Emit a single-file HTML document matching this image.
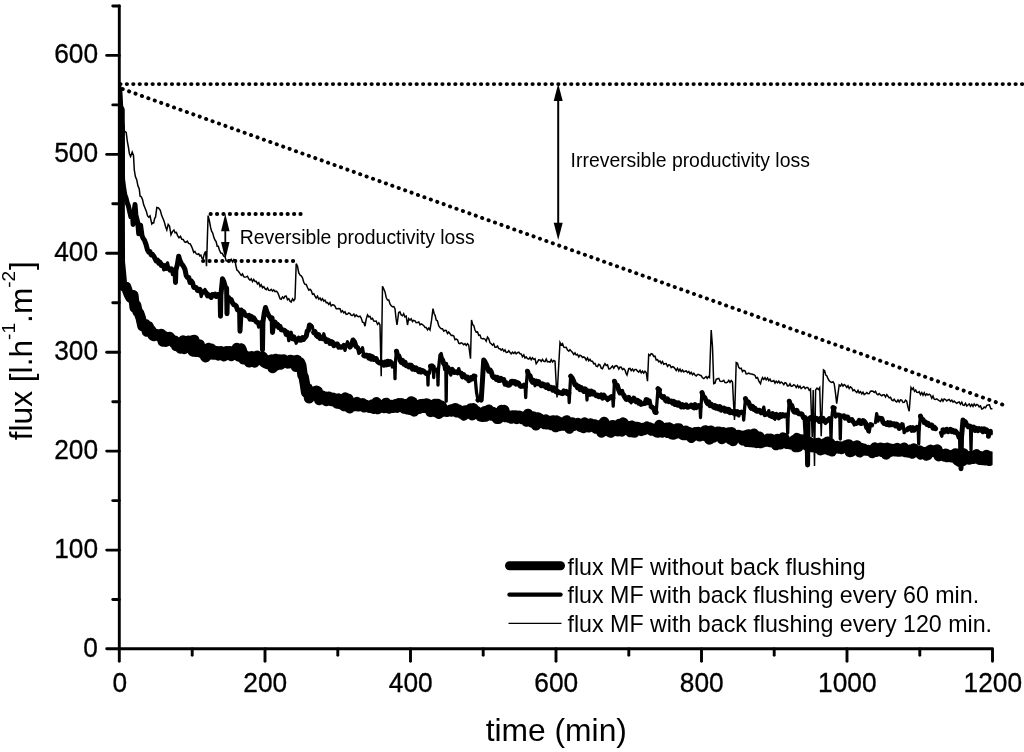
<!DOCTYPE html>
<html lang="en">
<head>
<meta charset="utf-8">
<title>Flux versus time for microfiltration with and without back flushing</title>
<style>
html,body{margin:0;padding:0;background:#fff;}
body{width:1024px;height:752px;overflow:hidden;font-family:"Liberation Sans",Arial,Helvetica,sans-serif;}
svg{display:block;}
</style>
</head>
<body>
<svg width="1024" height="752" viewBox="0 0 1024 752" font-family="'Liberation Sans', Arial, Helvetica, sans-serif" fill="#000">
<rect width="1024" height="752" fill="#fff"/>
<defs><clipPath id="plot"><rect x="118" y="0" width="874.6" height="650"/></clipPath></defs>
<g clip-path="url(#plot)" fill="none" stroke="#000" stroke-linejoin="round" stroke-linecap="round">
<path d="M119.5 110.0L119.6 200.0L119.8 262.0L120.6 270.0L122.0 285.0L123.4 285.5L124.8 286.8L126.1 286.9L127.5 291.0L129.0 294.7L130.5 297.7L132.0 297.0L133.3 295.2L134.7 307.7L136.0 305.0L137.5 311.6L139.0 313.0L140.8 318.3L142.5 326.0L144.0 324.9L145.5 324.2L147.0 331.6L148.5 326.3L150.0 330.0L151.2 330.3L152.5 335.3L153.7 336.0L155.0 335.2L156.2 334.2L157.5 335.4L158.7 334.7L160.0 337.0L161.4 334.0L162.8 341.4L164.2 336.1L165.6 341.7L166.9 337.4L168.3 337.5L169.7 337.0L171.1 339.4L172.5 340.5L173.8 342.9L175.0 340.8L176.2 346.0L177.5 345.0L178.9 343.5L180.3 348.4L181.7 346.3L183.1 340.6L184.4 348.9L185.8 342.4L187.2 342.7L188.6 340.7L190.0 343.7L191.4 340.8L192.8 351.4L194.2 339.9L195.6 351.8L196.9 345.6L198.3 351.5L199.7 344.7L201.1 352.8L202.5 350.0L204.0 354.6L205.5 357.2L207.0 355.7L208.5 348.0L210.0 352.5L211.4 348.7L212.8 354.6L214.2 354.6L215.6 350.9L216.9 351.3L218.3 355.4L219.7 351.4L221.1 351.3L222.5 353.7L223.9 356.2L225.4 354.6L226.8 351.2L228.2 354.4L229.6 351.2L231.1 355.9L232.5 351.2L233.9 353.4L235.4 353.8L236.8 348.1L238.2 356.1L239.6 356.7L241.1 348.4L242.5 352.5L243.7 359.3L245.0 359.2L246.2 358.7L247.6 356.5L249.0 362.3L250.3 360.7L251.7 356.2L253.1 360.1L254.5 362.4L255.9 359.6L257.2 355.8L258.6 359.9L260.0 357.5L261.4 360.4L262.9 356.9L264.3 362.4L265.7 363.2L267.1 363.9L268.6 360.4L270.0 362.5L271.4 359.6L272.7 368.1L274.1 366.3L275.5 359.0L276.8 365.4L278.2 359.9L279.5 359.5L280.9 364.5L282.3 362.6L283.6 359.4L285.0 361.2L286.4 362.1L287.7 363.4L289.1 363.2L290.5 359.9L291.8 363.1L293.2 362.9L294.5 360.5L295.9 366.7L297.3 360.1L298.6 364.7L300.0 362.5L301.2 365.3L302.5 375.0L303.7 377.3L305.0 384.6L306.2 392.5L307.7 388.2L309.1 398.3L310.6 396.6L312.1 391.5L313.5 392.6L315.0 395.0L316.4 390.8L317.8 391.5L319.2 400.0L320.6 396.1L321.9 395.7L323.3 398.4L324.7 396.5L326.1 400.9L327.5 398.7L328.9 396.8L330.2 400.6L331.6 401.0L333.0 397.8L334.3 399.1L335.7 402.1L337.0 403.5L338.4 398.6L339.8 403.9L341.1 399.8L342.5 402.5L344.0 406.1L345.4 397.6L346.9 406.5L348.3 399.0L349.8 408.3L351.2 405.8L352.7 402.7L354.2 405.7L355.6 406.0L357.1 402.1L358.5 406.3L360.0 405.0L361.4 403.8L362.7 403.3L364.1 407.2L365.5 404.8L366.8 406.6L368.2 406.8L369.5 407.8L370.9 407.1L372.3 404.5L373.6 408.7L375.0 406.2L376.4 402.3L377.8 409.0L379.2 404.5L380.6 407.2L381.9 405.2L383.3 407.9L384.7 407.9L386.1 402.9L387.5 404.8L388.9 408.5L390.3 407.9L391.7 405.1L393.1 407.7L394.4 407.4L395.8 404.2L397.2 407.7L398.6 403.3L400.0 406.2L401.4 403.3L402.8 404.1L404.2 408.6L405.6 404.2L406.9 409.3L408.3 408.7L409.7 409.8L411.1 401.4L412.5 401.9L413.9 411.4L415.3 404.3L416.7 408.6L418.1 408.8L419.4 408.7L420.8 404.3L422.2 404.1L423.6 407.8L425.0 406.2L426.4 403.5L427.8 404.0L429.2 408.5L430.6 411.9L431.9 411.0L433.3 411.0L434.7 404.0L436.1 412.1L437.5 403.9L438.9 413.7L440.3 410.4L441.7 405.7L443.1 411.6L444.4 410.5L445.8 411.5L447.2 411.7L448.6 410.8L450.0 410.0L451.4 411.6L452.8 409.2L454.2 408.7L455.6 408.2L456.9 412.3L458.3 409.4L459.7 412.2L461.1 413.5L462.5 412.7L463.9 415.4L465.3 410.4L466.7 413.4L468.1 411.2L469.4 413.0L470.8 408.5L472.2 415.2L473.6 408.3L475.0 412.5L476.4 411.0L477.8 412.2L479.2 413.9L480.6 416.4L481.9 416.7L483.3 416.7L484.7 411.2L486.1 416.5L487.5 410.8L488.9 409.8L490.3 412.4L491.7 415.5L493.1 412.0L494.4 415.8L495.8 417.1L497.2 418.8L498.6 418.8L500.0 415.0L501.4 410.1L502.8 410.9L504.2 410.1L505.6 417.0L506.9 415.0L508.3 417.4L509.7 415.8L511.1 418.5L512.5 415.4L513.9 416.0L515.3 415.4L516.7 418.9L518.1 416.2L519.4 415.8L520.8 416.6L522.2 419.1L523.6 417.7L525.0 418.7L526.4 421.5L527.8 414.0L529.2 421.0L530.6 417.4L531.9 422.5L533.3 416.5L534.7 423.4L536.1 425.3L537.5 417.5L538.9 418.0L540.3 422.6L541.7 422.9L543.1 419.9L544.4 424.0L545.8 419.6L547.2 424.3L548.6 421.3L550.0 422.5L551.4 425.1L552.8 420.4L554.2 424.7L555.6 427.1L556.9 420.6L558.3 425.3L559.7 425.9L561.1 422.5L562.5 425.5L563.9 425.3L565.3 421.4L566.7 420.5L568.1 426.2L569.4 428.6L570.8 426.0L572.2 422.4L573.6 425.8L575.0 425.0L576.4 423.6L577.8 423.0L579.2 424.0L580.6 426.9L581.9 423.7L583.3 427.9L584.7 422.5L586.1 424.9L587.5 427.0L588.9 427.2L590.3 423.5L591.7 425.0L593.1 425.2L594.4 424.4L595.8 428.4L597.2 425.3L598.6 428.8L600.0 427.0L601.4 432.5L602.7 423.9L604.1 422.0L605.5 425.4L606.8 430.6L608.2 431.2L609.5 429.7L610.9 432.6L612.3 425.3L613.6 425.5L615.0 427.5L616.4 430.9L617.8 431.2L619.2 424.0L620.6 430.1L621.9 431.4L623.3 422.6L624.7 424.5L626.1 426.6L627.5 426.5L628.9 429.7L630.3 432.1L631.7 425.7L633.1 431.2L634.4 432.5L635.8 427.2L637.2 426.9L638.6 427.4L640.0 428.7L641.4 430.9L642.8 427.9L644.2 430.0L645.6 427.7L646.9 426.8L648.3 428.2L649.7 427.7L651.1 430.4L652.5 428.6L653.9 430.6L655.3 431.1L656.7 432.3L658.1 432.5L659.4 425.1L660.8 427.7L662.2 432.4L663.6 428.2L665.0 430.0L666.4 427.8L667.8 432.8L669.2 427.5L670.6 432.6L671.9 434.3L673.3 434.4L674.7 429.3L676.1 433.6L677.5 428.6L678.9 428.5L680.3 433.3L681.7 434.0L683.1 435.0L684.4 434.9L685.8 430.7L687.2 435.1L688.6 432.0L690.0 433.7L691.4 437.7L692.8 435.6L694.2 435.6L695.6 432.4L696.9 432.8L698.3 432.0L699.7 436.3L701.1 435.6L702.5 432.4L703.9 431.4L705.3 430.5L706.7 436.8L708.1 432.6L709.4 439.4L710.8 430.7L712.2 436.5L713.6 437.6L715.0 435.0L716.4 433.0L717.8 431.7L719.2 431.7L720.6 433.6L721.9 438.9L723.3 432.3L724.7 433.6L726.1 434.7L727.5 433.5L728.9 432.4L730.3 439.3L731.7 432.3L733.1 440.9L734.4 434.7L735.8 435.8L737.2 436.2L738.6 434.9L740.0 437.5L741.4 435.7L742.8 440.3L744.2 435.8L745.6 435.5L746.9 441.8L748.3 434.4L749.7 441.9L751.1 436.7L752.5 442.2L753.9 433.7L755.3 435.7L756.7 442.9L758.1 442.7L759.4 436.7L760.8 443.1L762.2 441.2L763.6 442.1L765.0 440.0L766.4 441.4L767.8 438.8L769.2 441.9L770.6 438.7L771.9 442.1L773.3 441.8L774.7 439.8L776.1 445.1L777.5 439.0L778.9 444.1L780.3 444.2L781.7 439.6L783.1 437.7L784.4 438.2L785.8 443.2L787.2 443.8L788.6 443.5L790.0 442.5L791.4 444.6L792.8 444.7L794.2 440.1L795.6 447.0L796.9 438.1L798.3 446.9L799.7 441.0L801.1 439.7L802.5 440.7L803.9 439.8L805.3 441.5L806.7 445.6L808.1 443.0L809.4 441.9L810.8 443.6L812.2 447.2L813.6 443.9L815.0 445.0L816.4 447.9L817.8 442.9L819.2 443.9L820.6 450.2L822.0 447.6L823.4 449.2L824.8 443.3L826.2 448.4L827.6 441.7L829.0 450.2L830.4 443.4L831.8 451.3L833.2 448.2L834.6 448.5L836.0 446.2L837.4 446.1L838.8 448.5L840.2 446.4L841.6 448.9L843.0 447.5L844.4 447.1L845.8 445.5L847.2 445.0L848.6 444.4L849.9 451.9L851.3 451.8L852.7 446.4L854.1 450.0L855.5 447.3L856.9 445.5L858.3 446.9L859.7 452.3L861.1 447.9L862.4 450.0L863.8 448.8L865.2 450.5L866.6 450.6L868.0 450.0L869.4 451.0L870.8 451.1L872.2 452.8L873.6 452.2L874.9 447.5L876.3 451.7L877.7 449.5L879.1 448.8L880.5 447.8L881.9 451.7L883.3 448.2L884.7 451.1L886.1 454.5L887.4 447.8L888.8 452.2L890.2 448.7L891.6 451.4L893.0 450.0L894.4 448.9L895.8 451.3L897.2 448.0L898.6 451.6L899.9 451.6L901.3 449.3L902.7 448.7L904.1 447.7L905.5 452.1L906.9 450.4L908.3 452.5L909.7 452.3L911.1 449.4L912.4 453.5L913.8 448.6L915.2 450.6L916.6 451.2L918.0 452.5L919.4 450.6L920.8 454.4L922.2 451.8L923.6 452.2L924.9 452.4L926.3 455.4L927.7 455.0L929.1 450.6L930.5 449.9L931.9 451.4L933.3 451.9L934.7 451.0L936.1 450.0L937.4 449.6L938.8 456.2L940.2 453.8L941.6 454.2L943.0 455.0L944.4 456.5L945.8 453.7L947.2 457.1L948.6 454.9L949.9 456.5L951.3 457.1L952.7 455.0L954.1 457.0L955.5 453.4L956.9 460.0L958.3 460.7L959.7 461.8L961.1 452.9L962.4 461.1L963.8 453.5L965.2 456.1L966.6 459.2L968.0 457.5L969.4 459.5L970.8 456.1L972.3 456.6L973.7 458.8L975.1 455.1L976.5 454.4L978.0 456.1L979.4 459.7L980.8 456.3L982.2 460.0L983.7 456.5L985.1 460.3L986.5 455.0L987.9 456.6L989.4 460.8L990.8 456.6L992.2 458.7" stroke-width="10.5"/>
<path d="M119.6 90.0L119.8 105.0L121.2 118.0L122.2 130.0L122.4 155.0L122.4 170.0L122.6 179.4L123.8 188.7L124.9 195.1L126.0 198.0L127.2 202.8L128.5 206.2L129.8 212.2L130.9 216.9L132.7 217.4L133.1 224.4L133.5 216.9L135.0 204.5L135.9 215.0L137.8 222.5L138.7 233.7L139.1 225.8L140.6 225.3L142.0 235.6L143.2 238.5L144.3 239.8L145.9 244.0L147.5 250.0L148.8 252.2L150.0 251.7L151.2 255.0L152.5 254.4L153.8 256.2L155.0 258.7L156.2 261.0L157.5 260.1L158.8 263.2L160.0 262.1L161.2 265.5L162.5 265.0L163.8 269.9L165.0 265.6L166.2 268.5L167.5 262.9L168.8 268.3L170.0 270.0L171.3 268.8L172.5 274.7L173.8 271.8L175.1 270.5L175.5 282.5L175.9 270.0L177.3 264.8L178.7 256.2L180.0 260.6L181.2 263.1L182.5 265.0L183.8 266.9L185.0 269.5L186.2 275.6L187.5 277.5L188.8 277.6L190.0 282.5L191.2 280.8L192.5 282.7L193.8 287.4L195.0 287.5L196.2 287.4L197.5 290.4L198.8 290.8L200.0 289.5L201.2 296.5L202.5 292.5L203.8 291.8L205.0 289.4L206.2 292.7L207.5 295.8L208.8 294.9L210.0 296.2L211.2 297.4L212.5 294.6L213.8 294.9L215.0 294.2L216.2 296.5L217.5 295.0L218.8 294.2L220.1 295.5L220.5 316.2L220.9 295.0L222.5 278.7L224.0 282.1L225.5 287.5L226.6 288.0L227.0 313.7L227.4 298.0L228.7 297.5L230.0 300.6L231.2 299.6L232.5 302.9L233.7 304.7L235.0 305.0L236.2 305.9L237.5 310.0L238.7 310.0L239.6 310.5L240.0 331.2L241.2 310.0L242.5 312.2L243.7 311.8L245.0 314.8L246.2 315.7L247.5 316.2L248.8 315.4L250.0 319.2L251.2 316.3L252.5 319.4L253.8 317.9L255.0 320.0L256.2 321.8L257.5 322.3L258.7 327.1L260.0 323.0L261.2 322.5L262.1 323.0L262.5 350.0L262.9 322.5L264.2 313.4L265.5 307.5L267.0 312.2L268.5 315.2L270.0 317.5L271.0 319.5L272.1 318.0L272.5 332.5L273.7 322.5L275.0 322.0L276.2 325.7L277.5 324.5L278.7 327.5L280.0 326.3L281.2 329.8L282.5 330.0L283.8 329.9L285.0 330.8L286.2 334.5L287.5 332.4L288.8 340.7L290.0 336.2L291.2 332.3L292.5 338.6L293.8 336.8L295.0 339.4L296.2 343.2L297.5 340.0L298.8 338.2L300.0 340.0L301.2 340.3L302.5 337.5L303.7 339.3L305.0 337.6L306.2 336.2L307.3 330.8L308.4 330.5L309.5 325.0L310.9 325.8L312.3 326.5L313.7 332.5L315.0 331.6L316.2 335.2L317.5 336.5L318.7 334.6L320.0 338.5L321.2 337.1L322.5 338.7L323.8 333.8L325.0 338.7L326.2 341.4L327.5 339.9L328.8 340.7L330.0 343.5L331.2 341.5L332.5 342.2L333.8 345.7L335.0 345.0L336.2 344.0L337.5 344.1L338.8 347.2L340.0 346.6L341.2 347.3L342.5 346.8L343.8 345.3L345.0 350.3L346.2 345.3L347.5 341.8L348.8 345.3L350.0 347.0L351.5 344.9L353.0 340.0L354.5 341.8L356.0 346.5L357.5 347.5L358.8 353.4L360.0 351.5L361.2 350.4L362.5 347.7L363.8 355.5L365.0 356.2L366.2 355.1L367.5 355.5L368.8 358.1L370.0 355.7L371.2 359.1L372.5 356.6L373.8 359.4L375.0 358.7L376.2 358.5L377.5 361.6L378.8 362.7L380.0 363.0L381.2 362.0L382.5 363.7L383.7 365.2L385.0 362.0L386.2 364.9L387.5 361.2L388.7 364.3L390.0 361.6L391.2 362.5L392.3 367.0L393.4 366.4L394.6 363.0L395.0 378.7L395.4 362.5L396.5 351.2L397.7 355.8L398.8 355.7L400.0 360.0L401.2 362.3L402.5 360.3L403.8 364.2L405.0 362.1L406.2 365.7L407.5 365.0L408.8 366.9L410.0 365.1L411.2 365.3L412.5 369.2L413.8 367.5L415.0 369.5L416.2 367.9L417.5 370.0L418.8 371.7L420.0 369.7L421.2 372.1L422.5 370.6L423.8 371.2L425.0 372.5L426.3 373.7L427.6 373.0L428.0 385.0L428.4 372.5L429.5 373.1L430.5 366.2L431.9 365.8L433.2 366.7L433.7 377.5L434.1 370.5L436.0 370.0L437.6 370.5L438.0 385.0L438.4 370.0L440.0 355.0L441.2 353.6L442.5 359.7L443.7 363.7L444.7 369.6L445.8 364.2L446.2 401.2L446.6 368.0L448.0 367.5L449.4 372.3L450.8 375.1L452.2 369.3L453.6 372.2L455.0 372.5L456.2 371.7L457.5 372.8L458.8 368.6L460.0 372.9L461.2 373.2L462.5 376.8L463.8 374.7L465.0 376.2L466.2 378.1L467.5 377.2L468.8 380.7L470.0 380.0L471.2 377.6L472.5 378.8L473.8 376.0L475.0 376.2L476.5 392.1L478.0 400.0L479.6 398.4L481.2 400.0L482.4 381.6L483.7 360.0L485.0 361.8L486.2 364.1L487.5 367.5L488.7 371.1L490.0 369.8L491.2 371.7L492.5 376.2L493.7 377.5L495.0 377.0L496.2 379.4L497.5 377.3L498.7 380.5L500.0 380.4L501.2 378.5L502.5 380.0L503.8 379.6L505.0 384.1L506.2 382.7L507.5 385.0L508.8 385.3L510.0 384.5L511.2 381.5L512.5 381.2L513.8 382.9L515.0 381.6L516.2 384.1L517.5 382.7L518.8 383.5L520.0 385.9L521.2 386.4L522.5 386.2L523.9 385.2L525.2 386.7L525.7 397.5L526.2 386.2L527.5 371.2L528.7 375.0L530.0 375.5L531.2 380.0L532.5 382.3L533.7 380.3L535.0 385.7L536.2 381.0L537.5 383.7L538.7 381.6L540.0 383.7L541.2 385.6L542.5 383.8L543.8 386.0L545.0 384.8L546.2 387.5L547.5 384.8L548.8 388.6L550.0 387.5L551.2 387.2L552.5 390.1L553.8 387.8L555.0 390.7L556.2 391.8L557.5 391.2L558.8 392.8L560.0 392.4L561.2 393.3L562.5 393.6L563.8 390.9L565.0 392.5L566.2 391.4L567.5 393.7L568.8 393.0L569.2 402.5L569.7 392.5L570.7 376.2L572.1 377.8L573.6 381.0L575.0 385.0L576.2 384.8L577.5 387.7L578.8 386.3L580.0 389.6L581.2 387.5L582.5 390.0L583.9 391.4L585.2 388.9L586.5 390.5L587.0 400.0L587.5 391.7L588.7 391.2L590.0 395.2L591.2 391.1L592.5 394.0L593.7 392.2L595.0 394.6L596.2 395.8L597.5 395.0L598.8 396.8L600.0 396.3L601.2 394.9L602.5 398.1L603.8 395.1L605.0 397.0L606.2 398.0L607.5 400.6L608.8 398.6L610.0 397.5L611.4 396.6L612.8 398.0L613.2 406.2L613.7 397.5L614.5 381.2L615.9 385.4L617.3 385.3L618.7 390.0L620.0 392.9L621.2 391.7L622.5 390.6L623.7 395.0L625.0 397.5L626.2 399.4L627.5 399.3L628.8 397.3L630.0 400.4L631.2 402.7L632.5 400.5L633.8 398.2L635.0 400.0L636.2 401.7L637.5 400.3L638.8 403.1L640.0 401.8L641.2 404.3L642.5 403.7L643.8 403.4L645.0 403.5L646.2 399.6L647.5 400.0L648.8 402.9L650.0 400.3L651.2 406.7L652.5 407.5L653.7 408.4L655.0 412.2L656.2 412.5L658.0 388.7L659.5 389.9L661.0 396.0L662.5 397.5L663.8 396.6L665.0 399.7L666.2 401.0L667.5 398.9L668.8 401.6L670.0 401.2L671.2 401.0L672.5 403.1L673.8 401.5L675.0 404.5L676.2 402.7L677.5 405.2L678.8 402.9L680.0 405.0L681.2 406.8L682.5 404.6L683.8 406.9L685.0 406.3L686.2 404.9L687.5 407.2L688.8 407.0L690.0 406.2L691.2 405.2L692.5 406.9L693.8 407.8L695.0 404.6L696.2 407.7L697.5 406.2L698.8 405.5L700.0 406.7L700.5 417.5L701.0 406.2L702.0 392.5L703.4 396.7L704.8 397.6L706.2 401.2L707.5 403.6L708.7 401.8L710.0 405.7L711.2 404.2L712.5 406.2L713.8 407.3L715.0 405.6L716.2 408.2L717.5 406.6L718.8 408.9L720.0 406.7L721.2 410.1L722.5 408.7L723.8 408.1L725.0 411.1L726.2 409.0L727.5 411.4L728.8 409.3L730.0 412.6L731.2 411.1L732.5 412.5L733.8 413.2L735.0 411.5L736.2 414.0L737.5 411.7L738.8 415.9L740.0 412.5L741.6 412.1L743.2 413.0L743.7 420.0L744.2 412.5L745.5 398.7L747.0 402.7L748.5 402.1L750.0 406.2L751.2 408.3L752.5 406.3L753.8 409.4L755.0 408.3L756.2 411.0L757.5 411.2L758.8 410.2L760.0 410.6L761.2 412.9L762.5 411.4L763.8 407.2L765.0 414.6L766.2 414.3L767.5 413.7L768.8 410.6L770.0 415.8L771.2 416.3L772.5 413.5L773.8 417.1L775.0 419.2L776.2 414.3L777.5 416.2L778.8 417.8L780.2 414.6L781.5 416.3L782.8 414.7L784.2 416.0L785.5 415.0L787.2 415.5L787.7 433.0L788.2 415.0L789.3 401.2L790.5 405.2L791.8 405.4L793.0 410.0L794.2 412.0L795.5 412.2L796.8 410.3L798.0 413.1L799.2 413.9L800.5 413.7L802.0 414.2L803.5 417.7L805.0 417.5L806.0 435.0L806.8 419.0L807.6 465.0L808.1 419.2L809.2 418.7L810.5 417.4L811.7 417.5L813.0 420.0L814.2 420.6L815.5 418.1L816.7 418.4L818.0 419.5L819.2 421.3L820.5 418.3L821.8 420.8L823.0 418.3L824.2 421.0L825.5 423.4L826.8 421.0L828.0 420.0L829.3 418.6L830.5 420.5L831.0 439.0L831.5 420.0L833.0 407.5L834.2 408.0L835.5 417.1L836.8 414.9L838.0 415.0L839.8 415.5L840.3 439.0L840.8 416.7L842.5 416.2L843.8 415.8L845.2 418.2L846.5 417.0L847.8 417.1L849.2 420.5L850.5 420.0L851.8 419.5L853.0 421.5L854.2 425.0L855.5 423.5L856.8 423.2L858.0 422.5L859.2 420.5L860.5 423.4L861.7 423.4L863.0 420.6L864.2 421.2L865.5 422.9L866.7 427.5L868.0 431.5L869.2 432.1L870.5 424.5L871.7 425.0M875.5 422.5L876.7 413.7L878.0 421.2L879.2 418.0L880.5 418.7L881.8 418.5L883.0 422.1L884.2 423.5L885.5 423.7L886.8 424.5L888.0 422.7L889.2 425.0L890.5 422.9L891.8 424.7L893.0 423.7L894.2 423.7L895.5 426.0L896.8 424.2L898.0 425.2L899.2 428.4L900.5 427.5L901.8 423.7L903.0 424.1L904.2 432.7L905.5 430.1L906.8 429.9L908.0 428.7L909.2 428.0L910.5 427.5L911.8 430.3L913.0 427.7L914.2 430.2L915.5 428.7L916.9 427.5L918.2 429.2L918.7 443.7L919.2 428.7L920.5 416.2L921.7 419.5L923.0 419.5L924.2 422.5L925.5 422.1L926.7 424.5L928.0 423.3L929.2 425.6L930.5 425.0L931.8 424.9L933.0 428.1L934.2 427.1L935.5 428.7M940.5 432.5L941.8 436.2L943.0 429.8L944.2 432.0L945.5 430.0L946.8 429.3L948.0 431.6L949.2 431.2L950.5 429.4L951.8 431.6L953.0 430.3L954.2 432.2L955.5 431.2L956.7 432.6L958.0 434.4L959.2 437.5L960.5 438.0L961.0 468.7L961.5 437.5L963.0 420.0L964.2 423.1L965.5 422.0L966.7 425.0L968.1 426.8L969.5 426.0L970.5 426.5L971.0 450.0L971.5 429.2L972.5 428.7L973.8 427.1L975.2 430.5L976.5 428.4L977.8 430.5L979.2 428.7L980.5 430.0L981.7 428.9L983.0 431.7L984.2 428.8L985.5 431.4L986.7 430.0L988.5 436.2L989.5 431.9L990.5 431.2L992.2 432.5" stroke-width="3.3"/>
<path d="M119.6 90.0L119.8 105.0L121.2 118.0L122.2 130.0L122.4 155.0L122.4 170.0L122.6 179.4L123.8 188.7L124.9 195.1L126.0 198.0L127.2 202.8L128.5 206.2L129.8 212.2L130.9 216.9L132.7 217.4L133.1 224.4L133.5 216.9L135.0 204.5L135.9 215.0L137.8 222.5L138.7 233.7L139.1 225.8L140.6 225.3L142.0 235.6L143.2 238.5L144.3 239.8L145.9 244.0L147.5 250.0L148.8 252.2L150.0 251.7L151.2 255.0L152.5 254.4L153.8 256.2L155.0 258.7L156.2 261.0L157.5 260.1L158.8 263.2L160.0 262.1L161.2 265.5L162.5 265.0M165.0 265.6L166.2 268.5M168.8 268.3L170.0 270.0L171.3 268.8M173.8 271.8L175.1 270.5L175.5 282.5L175.9 270.0L177.3 264.8L178.7 256.2L180.0 260.6L181.2 263.1L182.5 265.0L183.8 266.9L185.0 269.5L186.2 275.6L187.5 277.5L188.8 277.6L190.0 282.5L191.2 280.8L192.5 282.7L193.8 287.4L195.0 287.5L196.2 287.4L197.5 290.4L198.8 290.8L200.0 289.5M202.5 292.5L203.8 291.8M206.2 292.7L207.5 295.8L208.8 294.9L210.0 296.2L211.2 297.4L212.5 294.6L213.8 294.9L215.0 294.2L216.2 296.5L217.5 295.0L218.8 294.2L220.1 295.5L220.5 316.2L220.9 295.0L222.5 278.7L224.0 282.1L225.5 287.5L226.6 288.0L227.0 313.7L227.4 298.0L228.7 297.5L230.0 300.6L231.2 299.6L232.5 302.9L233.7 304.7L235.0 305.0L236.2 305.9L237.5 310.0L238.7 310.0L239.6 310.5L240.0 331.2L241.2 310.0L242.5 312.2L243.7 311.8L245.0 314.8L246.2 315.7L247.5 316.2L248.8 315.4L250.0 319.2L251.2 316.3L252.5 319.4L253.8 317.9L255.0 320.0L256.2 321.8L257.5 322.3M260.0 323.0L261.2 322.5L262.1 323.0L262.5 350.0L262.9 322.5L264.2 313.4L265.5 307.5L267.0 312.2L268.5 315.2L270.0 317.5L271.0 319.5L272.1 318.0L272.5 332.5L273.7 322.5L275.0 322.0L276.2 325.7L277.5 324.5L278.7 327.5L280.0 326.3L281.2 329.8L282.5 330.0L283.8 329.9L285.0 330.8L286.2 334.5L287.5 332.4M290.0 336.2M292.5 338.6L293.8 336.8L295.0 339.4M297.5 340.0L298.8 338.2L300.0 340.0L301.2 340.3L302.5 337.5L303.7 339.3L305.0 337.6L306.2 336.2L307.3 330.8L308.4 330.5L309.5 325.0L310.9 325.8M313.7 332.5L315.0 331.6L316.2 335.2L317.5 336.5L318.7 334.6L320.0 338.5L321.2 337.1L322.5 338.7M325.0 338.7L326.2 341.4L327.5 339.9L328.8 340.7L330.0 343.5L331.2 341.5L332.5 342.2L333.8 345.7L335.0 345.0L336.2 344.0L337.5 344.1L338.8 347.2L340.0 346.6L341.2 347.3L342.5 346.8L343.8 345.3M346.2 345.3M348.8 345.3L350.0 347.0L351.5 344.9L353.0 340.0L354.5 341.8L356.0 346.5L357.5 347.5M360.0 351.5L361.2 350.4M363.8 355.5L365.0 356.2L366.2 355.1L367.5 355.5L368.8 358.1L370.0 355.7L371.2 359.1L372.5 356.6L373.8 359.4L375.0 358.7L376.2 358.5L377.5 361.6L378.8 362.7L380.0 363.0L381.2 362.0L382.5 363.7L383.7 365.2L385.0 362.0L386.2 364.9L387.5 361.2L388.7 364.3L390.0 361.6L391.2 362.5M394.6 363.0M396.5 351.2L397.7 355.8L398.8 355.7L400.0 360.0L401.2 362.3L402.5 360.3L403.8 364.2L405.0 362.1L406.2 365.7L407.5 365.0L408.8 366.9L410.0 365.1L411.2 365.3L412.5 369.2L413.8 367.5L415.0 369.5L416.2 367.9L417.5 370.0L418.8 371.7L420.0 369.7L421.2 372.1L422.5 370.6L423.8 371.2L425.0 372.5L426.3 373.7L427.6 373.0M430.5 366.2L431.9 365.8L433.2 366.7M434.1 370.5L436.0 370.0L437.6 370.5M440.0 355.0M442.5 359.7L443.7 363.7L445.8 364.2M446.6 368.0L448.0 367.5M452.2 369.3L453.6 372.2L455.0 372.5L456.2 371.7L457.5 372.8M460.0 372.9L461.2 373.2L462.5 376.8L463.8 374.7L465.0 376.2L466.2 378.1L467.5 377.2L468.8 380.7L470.0 380.0L471.2 377.6L472.5 378.8L473.8 376.0L475.0 376.2M478.0 400.0L479.6 398.4L481.2 400.0L482.4 381.6L483.7 360.0L485.0 361.8L486.2 364.1L487.5 367.5L488.7 371.1L490.0 369.8L491.2 371.7L492.5 376.2L493.7 377.5L495.0 377.0L496.2 379.4L497.5 377.3L498.7 380.5L500.0 380.4L501.2 378.5L502.5 380.0L503.8 379.6L505.0 384.1L506.2 382.7L507.5 385.0L508.8 385.3L510.0 384.5L511.2 381.5L512.5 381.2L513.8 382.9L515.0 381.6L516.2 384.1L517.5 382.7L518.8 383.5L520.0 385.9L521.2 386.4L522.5 386.2L523.9 385.2L525.2 386.7M527.5 371.2L528.7 375.0L530.0 375.5L531.2 380.0L532.5 382.3L533.7 380.3M536.2 381.0L537.5 383.7L538.7 381.6L540.0 383.7L541.2 385.6L542.5 383.8L543.8 386.0L545.0 384.8L546.2 387.5L547.5 384.8L548.8 388.6L550.0 387.5L551.2 387.2L552.5 390.1L553.8 387.8L555.0 390.7L556.2 391.8L557.5 391.2L558.8 392.8L560.0 392.4L561.2 393.3L562.5 393.6L563.8 390.9L565.0 392.5L566.2 391.4L567.5 393.7L568.8 393.0M570.7 376.2L572.1 377.8L573.6 381.0L575.0 385.0L576.2 384.8L577.5 387.7L578.8 386.3L580.0 389.6L581.2 387.5L582.5 390.0L583.9 391.4L585.2 388.9L586.5 390.5M587.5 391.7L588.7 391.2M591.2 391.1L592.5 394.0L593.7 392.2L595.0 394.6L596.2 395.8L597.5 395.0L598.8 396.8L600.0 396.3L601.2 394.9L602.5 398.1L603.8 395.1L605.0 397.0L606.2 398.0M608.8 398.6L610.0 397.5L611.4 396.6L612.8 398.0M614.5 381.2L615.9 385.4L617.3 385.3L618.7 390.0L620.0 392.9L621.2 391.7M623.7 395.0L625.0 397.5L626.2 399.4L627.5 399.3L628.8 397.3L630.0 400.4M632.5 400.5L633.8 398.2L635.0 400.0L636.2 401.7L637.5 400.3L638.8 403.1L640.0 401.8L641.2 404.3L642.5 403.7L643.8 403.4L645.0 403.5L646.2 399.6L647.5 400.0L648.8 402.9M651.2 406.7L652.5 407.5L653.7 408.4L655.0 412.2L656.2 412.5M658.0 388.7L659.5 389.9M661.0 396.0L662.5 397.5L663.8 396.6L665.0 399.7L666.2 401.0L667.5 398.9L668.8 401.6L670.0 401.2L671.2 401.0L672.5 403.1L673.8 401.5L675.0 404.5L676.2 402.7L677.5 405.2L678.8 402.9L680.0 405.0L681.2 406.8L682.5 404.6L683.8 406.9L685.0 406.3L686.2 404.9L687.5 407.2L688.8 407.0L690.0 406.2L691.2 405.2L692.5 406.9L693.8 407.8L695.0 404.6L696.2 407.7L697.5 406.2L698.8 405.5L700.0 406.7M702.0 392.5L703.4 396.7L704.8 397.6L706.2 401.2L707.5 403.6L708.7 401.8L710.0 405.7L711.2 404.2L712.5 406.2L713.8 407.3L715.0 405.6L716.2 408.2L717.5 406.6L718.8 408.9L720.0 406.7L721.2 410.1L722.5 408.7L723.8 408.1L725.0 411.1L726.2 409.0L727.5 411.4L728.8 409.3L730.0 412.6L731.2 411.1L732.5 412.5L733.8 413.2L735.0 411.5L736.2 414.0L737.5 411.7M740.0 412.5L741.6 412.1L743.2 413.0M745.5 398.7L747.0 402.7L748.5 402.1L750.0 406.2L751.2 408.3L752.5 406.3L753.8 409.4L755.0 408.3L756.2 411.0L757.5 411.2L758.8 410.2L760.0 410.6L761.2 412.9L762.5 411.4M765.0 414.6L766.2 414.3L767.5 413.7M770.0 415.8L771.2 416.3L772.5 413.5L773.8 417.1M776.2 414.3L777.5 416.2L778.8 417.8L780.2 414.6L781.5 416.3L782.8 414.7L784.2 416.0L785.5 415.0L787.2 415.5M789.3 401.2L790.5 405.2L791.8 405.4L793.0 410.0L794.2 412.0L795.5 412.2L796.8 410.3L798.0 413.1L799.2 413.9L800.5 413.7L802.0 414.2L803.5 417.7L805.0 417.5L806.0 435.0L806.8 419.0L807.6 465.0L808.1 419.2L809.2 418.7L810.5 417.4L811.7 417.5L813.0 420.0L814.2 420.6L815.5 418.1L816.7 418.4L818.0 419.5L819.2 421.3L820.5 418.3L821.8 420.8L823.0 418.3L824.2 421.0M826.8 421.0L828.0 420.0L829.3 418.6L830.5 420.5M833.0 407.5L834.2 408.0M836.8 414.9L838.0 415.0L839.8 415.5M840.8 416.7L842.5 416.2L843.8 415.8L845.2 418.2L846.5 417.0L847.8 417.1L849.2 420.5L850.5 420.0L851.8 419.5L853.0 421.5M855.5 423.5L856.8 423.2L858.0 422.5L859.2 420.5L860.5 423.4L861.7 423.4L863.0 420.6L864.2 421.2L865.5 422.9L866.7 427.5M870.5 424.5L871.7 425.0M875.5 422.5M876.7 413.7M879.2 418.0L880.5 418.7L881.8 418.5L883.0 422.1L884.2 423.5L885.5 423.7L886.8 424.5L888.0 422.7L889.2 425.0L890.5 422.9L891.8 424.7L893.0 423.7L894.2 423.7L895.5 426.0L896.8 424.2L898.0 425.2L899.2 428.4L900.5 427.5M905.5 430.1L906.8 429.9L908.0 428.7L909.2 428.0L910.5 427.5L911.8 430.3L913.0 427.7L914.2 430.2L915.5 428.7L916.9 427.5L918.2 429.2M920.5 416.2L921.7 419.5L923.0 419.5L924.2 422.5L925.5 422.1L926.7 424.5L928.0 423.3L929.2 425.6L930.5 425.0L931.8 424.9L933.0 428.1L934.2 427.1L935.5 428.7M940.5 432.5M943.0 429.8L944.2 432.0L945.5 430.0L946.8 429.3L948.0 431.6L949.2 431.2L950.5 429.4L951.8 431.6L953.0 430.3L954.2 432.2L955.5 431.2L956.7 432.6L958.0 434.4L959.2 437.5L960.5 438.0L961.0 468.7L961.5 437.5L963.0 420.0L964.2 423.1L965.5 422.0L966.7 425.0L968.1 426.8L969.5 426.0L970.5 426.5M971.5 429.2L972.5 428.7L973.8 427.1L975.2 430.5L976.5 428.4L977.8 430.5L979.2 428.7L980.5 430.0L981.7 428.9L983.0 431.7L984.2 428.8L985.5 431.4L986.7 430.0M988.5 436.2L989.5 431.9L990.5 431.2L992.2 432.5" stroke-width="5"/>
<path d="M120.6 86.0L121.6 92.0L122.4 105.0L123.2 120.0L124.4 131.0L126.2 132.5L127.5 142.5L128.4 147.0L129.4 153.7L130.6 156.5L132.2 152.2L133.5 155.5L134.3 170.0L135.4 176.6L136.7 179.7L137.9 185.8L139.2 188.7L140.1 196.2L141.3 196.8L142.5 199.5L143.7 204.8L144.8 207.5L146.2 210.9L147.6 215.9L148.8 217.2L150.0 215.9L151.8 223.9L152.8 222.9L153.7 223.0L154.6 218.5L155.6 216.9L156.8 207.5L158.5 208.0L160.3 210.3L161.7 215.6L163.1 218.7L164.3 221.9L165.6 226.8L166.8 230.0L168.2 224.4L169.5 226.0L171.0 234.7L172.4 231.6L173.9 230.0L175.1 232.8L176.4 232.4L177.6 235.6L179.0 237.7L180.4 236.3L181.8 239.2L183.2 239.4L184.6 241.8L185.9 242.3L187.3 241.2L188.6 243.4L190.0 243.7L191.2 245.7L192.5 248.7L193.7 252.5L194.9 251.4L196.2 253.8L197.4 254.4L198.7 253.7L199.8 255.9L200.9 255.1L202.0 258.2L203.1 258.7L204.3 254.1L205.6 251.2L206.5 266.2L208.1 215.6L209.3 220.3L210.6 227.5L211.7 231.4L212.8 233.2L213.9 237.6L215.0 240.0L216.1 241.5L217.2 246.2L218.3 246.3L219.4 250.0L220.8 253.0L222.3 253.3L223.7 256.2L225.0 256.6L226.2 260.9L227.5 261.2L228.8 260.0L230.0 260.6L231.2 259.3L232.5 261.8L233.8 259.4L235.0 260.0L235.9 265.8L236.9 270.0L238.4 271.3L240.0 273.7L241.2 275.4L242.5 273.9L243.7 276.6L245.0 277.3L246.2 276.9L247.5 276.2L248.7 278.9L250.0 280.2L251.2 278.8L252.5 281.6L253.7 279.4L255.0 281.5L256.2 281.3L257.5 283.9L258.8 282.7L260.0 286.3L261.2 284.7L262.5 287.7L263.8 286.6L265.0 288.7L266.2 289.7L267.5 287.9L268.7 290.3L270.0 290.5L271.2 289.3L272.5 291.0L273.7 289.8L275.0 291.6L276.2 291.2L277.5 292.3L278.7 295.0L280.0 298.7L281.2 299.2L282.5 296.9L283.8 298.2L285.0 296.2L286.2 296.0L287.5 299.8L288.8 298.7L290.0 301.2L291.2 302.1L292.5 298.9L293.8 300.7L295.0 298.7L296.2 263.7L297.5 266.3L298.7 272.7L300.0 275.0L301.2 275.9L302.5 277.8L303.8 282.5L305.0 284.4L306.2 284.5L307.5 287.5L308.8 290.1L310.0 289.3L311.2 290.5L312.5 294.2L313.8 293.7L315.0 296.2L316.2 298.2L317.5 296.2L318.8 299.2L320.0 298.0L321.2 300.4L322.5 298.6L323.8 301.1L325.0 300.1L326.2 302.6L327.5 302.5L328.8 304.4L330.0 302.7L331.2 306.0L332.5 304.7L333.8 305.0L335.0 306.3L336.2 308.8L337.5 308.7L338.8 308.4L340.0 308.7L341.2 312.1L342.5 310.7L343.8 312.8L345.0 311.7L346.2 314.3L347.5 314.0L348.8 312.9L350.0 313.5L351.2 315.2L352.5 315.4L353.8 314.0L355.0 316.6L356.2 314.9L357.5 316.3L358.8 316.7L360.0 316.2L361.2 318.1L362.5 322.2L363.8 322.5L365.0 326.2L366.2 319.1L367.5 315.0L368.8 316.8L370.0 316.4L371.2 319.1L372.5 318.4L373.8 321.0L375.0 321.2L376.2 321.1L377.5 324.4L378.8 322.8L380.0 325.0L381.2 376.2L382.5 286.2L383.8 289.0L385.0 291.9L386.2 297.5L387.5 300.0L388.8 300.0L390.0 304.0L391.2 305.7L392.5 306.8L393.8 306.5L395.0 308.7L396.0 318.2L397.0 325.0L398.7 312.5L399.9 311.9L401.2 315.1L402.4 315.8L403.7 313.7L404.9 317.0L406.2 316.2L407.5 325.0L408.7 318.7L410.0 320.1L411.2 318.8L412.5 321.6L413.7 320.3L415.0 320.8L416.2 322.7L417.5 322.5L418.8 322.0L420.0 324.8L421.2 323.8L422.5 324.6L423.8 325.7L425.0 327.5L426.2 327.5L427.5 329.8L428.8 328.1L430.0 330.0L431.5 320.4L433.0 308.7L434.1 313.5L435.1 315.3L436.2 320.0L437.4 320.8L438.7 325.7L439.9 327.6L441.2 328.7L442.5 328.7L443.7 331.1L445.0 330.3L446.2 330.5L447.5 333.6L448.7 332.0L450.0 333.7L451.2 335.5L452.5 335.3L453.8 336.0L455.0 339.7L456.2 339.0L457.5 339.8L458.8 343.3L460.0 343.7L461.2 342.8L462.5 343.4L463.7 344.8L465.0 343.7L466.2 345.5L467.5 343.7L468.7 345.0L470.5 358.7L471.5 320.0L472.7 324.6L473.8 325.6L475.0 330.0L476.2 332.2L477.5 331.9L478.8 335.3L480.0 335.1L481.2 338.4L482.5 338.7L483.7 338.5L485.0 339.2L486.2 341.2L487.5 337.0L488.7 338.5L490.0 342.8L491.2 343.7L492.5 345.2L493.7 343.7L495.0 347.3L496.2 347.2L497.5 346.0L498.7 348.6L500.0 348.7L501.2 350.1L502.5 349.0L503.8 351.3L505.0 349.9L506.2 352.5L507.5 352.2L508.8 350.8L510.0 352.5L511.2 353.8L512.5 352.2L513.8 353.5L515.0 352.1L516.2 353.9L517.5 352.7L518.8 352.1L520.0 353.7L521.2 353.9L522.5 356.8L523.8 354.9L525.0 358.0L526.2 356.9L527.5 358.7L528.8 359.2L530.0 357.4L531.2 359.7L532.5 357.8L533.8 359.4L535.0 358.7L536.2 363.7L537.5 361.9L538.7 359.9L540.0 360.0L541.2 361.5L542.5 359.3L543.8 361.3L545.0 361.7L546.2 359.1L547.5 361.9L548.8 361.6L550.0 362.2L551.2 359.6L552.5 361.9L553.8 360.5L555.0 361.2L556.0 380.3L557.0 397.5L558.5 369.1L560.0 342.5L561.2 344.9L562.5 343.6L563.8 347.1L565.0 347.5L566.2 347.3L567.5 350.1L568.8 351.2L570.0 349.6L571.2 351.1L572.5 352.5L573.8 354.4L575.0 352.8L576.2 355.1L577.5 354.4L578.8 357.0L580.0 355.2L581.2 355.8L582.5 357.5L583.8 356.8L585.0 357.8L586.2 360.2L587.5 357.9L588.8 360.8L590.0 359.3L591.2 361.3L592.5 361.2L593.7 363.8L595.0 363.4L596.2 366.2L597.5 366.6L598.7 364.3L600.0 365.0L601.2 368.1L602.5 368.7L603.8 365.7L605.0 363.7L606.2 365.5L607.5 364.9L608.8 368.9L610.0 368.7L611.2 367.5L612.5 366.0L613.8 368.2L615.0 366.2L616.2 365.7L617.5 366.4L618.8 369.1L620.0 367.1L621.2 367.3L622.5 369.7L623.8 368.6L625.0 370.0L626.0 373.1L627.0 375.0L628.7 368.7L630.0 368.4L631.2 370.6L632.5 369.0L633.7 371.1L635.0 369.4L636.2 369.4L637.5 371.2L638.7 372.1L640.0 370.2L641.2 372.9L642.5 371.2L643.7 373.2L645.0 371.2L646.2 372.5L647.5 381.2L648.7 354.5L650.0 355.6L651.2 353.7L652.5 354.1L653.7 356.4L655.0 356.2L656.2 360.0L657.5 359.6L658.7 361.7L660.0 361.0L661.2 363.3L662.5 361.5L663.7 364.2L665.0 363.7L666.2 363.5L667.5 366.3L668.8 364.9L670.0 365.1L671.2 367.6L672.5 366.7L673.8 367.2L675.0 368.7L676.2 370.5L677.5 368.3L678.8 371.1L680.0 369.1L681.2 371.6L682.5 370.0L683.8 371.9L685.0 371.2L686.2 370.9L687.5 372.7L688.8 371.5L690.0 373.9L691.2 372.4L692.5 374.7L693.8 373.3L695.0 375.0L696.2 376.0L697.5 374.5L698.8 374.5L700.0 375.3L701.2 375.7L702.5 377.8L703.8 378.6L705.0 377.5L706.1 376.6L707.2 378.4L708.4 376.6L709.5 377.5L711.2 330.0L712.5 347.0L713.7 383.7L715.0 383.1L716.2 379.3L717.5 378.7L718.8 378.3L720.0 381.2L721.2 381.4L722.5 381.2L723.8 380.3L725.0 382.5L726.2 382.7L727.5 382.2L728.8 380.4L730.0 382.4L731.2 380.5L732.5 382.0L733.5 402.1L734.5 420.0L736.2 362.5L737.5 363.3L738.7 367.4L740.0 368.7L741.2 368.3L742.5 371.6L743.8 370.3L745.0 370.9L746.2 373.9L747.5 373.7L748.8 373.0L750.0 373.7L751.2 373.9L752.5 374.3L753.8 374.7L755.0 375.4L756.2 378.2L757.5 377.5L759.0 381.5L760.5 383.7L761.5 379.9L762.5 377.5L763.8 379.5L765.0 377.7L766.2 379.8L767.5 377.9L768.8 380.6L770.0 379.1L771.2 381.4L772.5 381.2L773.8 380.5L775.0 383.1L776.2 381.2L777.5 382.8L778.8 381.1L780.0 383.3L781.2 382.0L782.5 383.0L783.8 384.6L785.0 382.7L786.2 383.1L787.5 385.9L788.8 385.7L790.0 383.8L791.2 386.4L792.5 386.0L793.8 384.7L795.0 385.5L796.2 387.6L797.5 385.3L798.8 387.7L800.0 386.1L801.2 388.6L802.5 387.5L803.8 386.6L805.2 388.7L806.5 387.5L807.8 387.5L809.2 390.2L810.5 389.0L812.2 437.0L813.2 390.0L814.5 466.0L815.6 390.0L817.0 388.1L818.3 389.6L819.7 387.5L821.2 436.2L822.4 401.8L823.5 370.0L824.6 370.8L825.8 375.1L826.9 375.9L828.0 378.7L829.2 380.7L830.5 381.8L831.7 382.5L833.0 381.8L834.2 383.7L835.5 393.1L836.7 403.7L838.0 393.6L839.2 385.0L840.5 386.1L841.7 383.9L843.0 386.1L844.2 384.6L845.5 385.5L846.8 387.4L848.0 385.7L849.2 388.5L850.5 386.9L851.8 387.9L853.0 390.7L854.2 389.7L855.5 391.2L856.8 392.5L858.0 390.3L859.2 392.9L860.5 391.6L861.8 393.8L863.0 392.2L864.2 394.6L865.5 393.7L866.8 392.6L868.0 393.7L869.2 393.5L870.5 391.2L871.8 391.0L873.0 391.2L874.2 392.5L875.5 391.3L876.8 394.0L878.0 394.8L879.2 393.6L880.5 395.0L881.8 395.8L883.0 394.8L884.2 394.7L885.5 397.0L886.8 394.7L888.0 396.2L889.2 397.9L890.5 397.3L891.8 399.9L893.0 400.8L894.2 399.2L895.5 401.2L896.7 402.0L898.0 400.0L899.2 402.1L900.5 399.9L901.7 400.1L903.0 402.5L904.2 402.3L905.5 400.2L906.7 401.2L908.0 407.4L909.2 411.2L911.0 387.5L912.2 389.4L913.3 387.8L914.5 391.4L915.7 390.1L916.8 392.4L918.0 392.5L919.2 391.6L920.5 394.6L921.8 392.5L923.0 395.2L924.2 392.7L925.5 395.4L926.8 393.9L928.0 395.0L929.2 394.1L930.5 395.1L931.8 398.2L933.0 396.1L934.2 399.2L935.5 399.5L936.8 398.8L938.0 400.0L939.2 400.7L940.5 401.4L941.8 399.2L943.0 401.2L944.2 398.9L945.5 399.5L946.8 401.0L948.0 400.0L949.2 399.4L950.5 401.3L951.8 400.2L953.0 402.1L954.2 401.0L955.5 402.5L956.8 403.3L958.0 402.5L959.2 401.9L960.5 404.3L961.8 402.2L963.0 405.2L964.2 405.4L965.5 403.4L966.8 406.1L968.0 405.0L969.2 404.0L970.5 406.4L971.8 404.4L973.0 406.4L974.2 403.9L975.5 405.8L976.8 404.4L978.0 405.0L979.2 406.9L980.5 405.9L981.8 409.0L983.0 408.7L984.2 407.0L985.5 407.8L986.8 405.3L988.0 405.0L989.4 404.8L990.8 408.8L992.2 408.7" stroke-width="1.5" stroke-linejoin="miter"/>
</g>
<g fill="none" stroke="#000" stroke-width="3.9" stroke-linecap="round">
<path d="M120.3 84.1H1023" stroke-dasharray="0.3 6.14"/>
<path d="M122.6 89L1003.2 404.8" stroke-dasharray="0.2 6.620"/>
<path d="M210.5 214H301" stroke-dasharray="0.3 6.12"/>
<path d="M203 261H294" stroke-dasharray="0.3 6.12"/>
</g>
<path d="M558.2 100.0V223.70000000000002" stroke="#000" stroke-width="2.0" fill="none"/>
<path d="M558.2 83.8l4.5 17.2h-9.0z"/>
<path d="M558.2 239.9l4.5 -17.2h-9.0z"/>
<path d="M225.3 230.3V242.89999999999998" stroke="#000" stroke-width="1.8" fill="none"/>
<path d="M225.3 213.8l4.25 17.5h-8.5z"/>
<path d="M225.3 259.4l4.25 -17.5h-8.5z"/>
<g stroke="#000" stroke-width="2.9" fill="none" stroke-linecap="round" stroke-linejoin="round">
<path d="M119.3 6.0V661.2"/>
<path d="M106.7 648.8H992.5V661.2"/>
<path d="M106.7 550.1H119.3"/>
<path d="M106.7 451.1H119.3"/>
<path d="M106.7 352.2H119.3"/>
<path d="M106.7 253.3H119.3"/>
<path d="M106.7 154.4H119.3"/>
<path d="M106.7 55.4H119.3"/>
<path d="M112.8 599.5H119.3"/>
<path d="M112.8 500.6H119.3"/>
<path d="M112.8 401.7H119.3"/>
<path d="M112.8 302.7H119.3"/>
<path d="M112.8 203.8H119.3"/>
<path d="M112.8 104.9H119.3"/>
<path d="M112.8 6.0H119.3"/>
<path d="M265.0 649V661.2"/>
<path d="M410.5 649V661.2"/>
<path d="M556.0 649V661.2"/>
<path d="M701.5 649V661.2"/>
<path d="M847.0 649V661.2"/>
<path d="M192.2 649V655.2"/>
<path d="M337.8 649V655.2"/>
<path d="M483.2 649V655.2"/>
<path d="M628.8 649V655.2"/>
<path d="M774.2 649V655.2"/>
<path d="M919.8 649V655.2"/>
</g>
<g font-size="26.3px" stroke="#000" stroke-width="0.3">
<text transform="translate(98 656.6) scale(1 1.065)" text-anchor="end">0</text>
<text transform="translate(98 557.7) scale(1 1.065)" text-anchor="end">100</text>
<text transform="translate(98 458.7) scale(1 1.065)" text-anchor="end">200</text>
<text transform="translate(98 359.8) scale(1 1.065)" text-anchor="end">300</text>
<text transform="translate(98 260.9) scale(1 1.065)" text-anchor="end">400</text>
<text transform="translate(98 162.0) scale(1 1.065)" text-anchor="end">500</text>
<text transform="translate(98 63.0) scale(1 1.065)" text-anchor="end">600</text>
<text transform="translate(119.8 691.5) scale(1 1.065)" text-anchor="middle">0</text>
<text transform="translate(265.3 691.5) scale(1 1.065)" text-anchor="middle">200</text>
<text transform="translate(410.8 691.5) scale(1 1.065)" text-anchor="middle">400</text>
<text transform="translate(556.3 691.5) scale(1 1.065)" text-anchor="middle">600</text>
<text transform="translate(701.8 691.5) scale(1 1.065)" text-anchor="middle">800</text>
<text transform="translate(847.3 691.5) scale(1 1.065)" text-anchor="middle">1000</text>
<text transform="translate(992.8 691.5) scale(1 1.065)" text-anchor="middle">1200</text>
</g>
<text x="556.3" y="741" font-size="31.8px" text-anchor="middle">time (min)</text>
<text transform="translate(31.9 440.3) rotate(-90)" font-size="31.7px">flux [l.h<tspan font-size="19px" dy="-17.3">-1</tspan><tspan dy="17.3" dx="0.1">.m</tspan><tspan font-size="19px" dy="-17.3">-2</tspan><tspan dy="17.3" dx="0.8">]</tspan></text>
<g font-size="19.4px">
<text x="570.6" y="167.2">Irreversible productivity loss</text>
<text x="239.8" y="244.2">Reversible productivity loss</text>
</g>
<g stroke="#000" fill="none" stroke-linecap="round">
<path d="M509.5 565.8H560.5" stroke-width="9"/>
<path d="M509.5 594.6H560.5" stroke-width="4.4"/>
<path d="M508.5 623.3H561.5" stroke-width="1.3" stroke-linecap="butt"/>
</g>
<g font-size="23.22px">
<text x="567.5" y="574.5">flux MF without back flushing</text>
<text x="567.5" y="603.2">flux MF with back flushing every 60 min.</text>
<text x="567.5" y="631.9">flux MF with back flushing every 120 min.</text>
</g>
</svg>
</body>
</html>
